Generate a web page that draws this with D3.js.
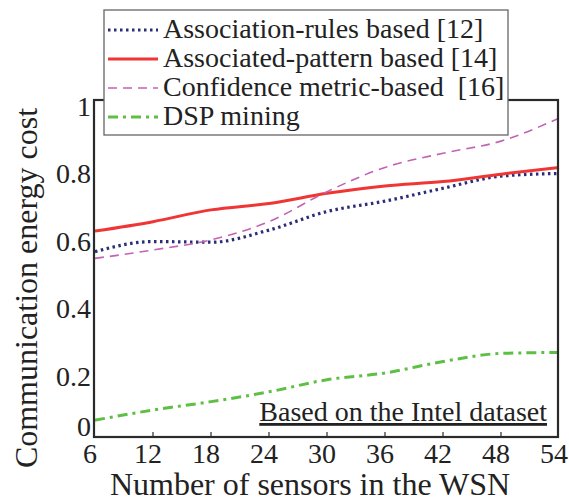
<!DOCTYPE html>
<html>
<head>
<meta charset="utf-8">
<script src="https://cdn.jsdelivr.net/npm/d3@7"></script>
<style>
body { margin: 0; background: #fff; }
text { font-family: "Liberation Serif", "Times New Roman", serif; fill: #222; }
</style>
</head>
<body>
<div id="chart"></div>
<script>
// number of sensors
var sensors = [6, 12, 18, 24, 30, 36, 42, 48, 54];

var assoc_rules   = [0.55, 0.58, 0.578, 0.614, 0.669, 0.70, 0.738, 0.774, 0.782];
var assoc_pattern = [0.611, 0.639, 0.674, 0.693, 0.723, 0.745, 0.758, 0.780, 0.80];
var confidence    = [0.53, 0.555, 0.585, 0.639, 0.728, 0.80, 0.842, 0.878, 0.946];
var dsp_mining    = [0.05, 0.08, 0.105, 0.134, 0.17, 0.19, 0.224, 0.248, 0.251];

var series_names = ['Association-rules based [12]', 'Associated-pattern based [14]',
		    'Confidence metric-based  [16]', 'DSP mining'];
var x_ticks = [6, 12, 18, 24, 30, 36, 42, 48, 54];
var y_ticks = [0, 0.2, 0.4, 0.6, 0.8, 1];

var width = 569, height = 502;
var m = {left: 94, right: 558, top: 100, bottom: 437};

var series = [
    {name: series_names[0], values: assoc_rules, color: '#2a2d78', width: 3.2, dash: '2.5,3.5'},
    {name: series_names[1], values: assoc_pattern, color: '#f03535', width: 3, dash: null},
    {name: series_names[2], values: confidence, color: '#c462b4', width: 1.6, dash: '9,6'},
    {name: series_names[3], values: dsp_mining, color: '#5fbf45', width: 3, dash: '10,5,3,5'}
];

var x = d3.scaleLinear().domain([6, 54]).range([m.left + 1, m.right + 1]);
var y = d3.scaleLinear().domain([0, 1]).range([m.bottom, m.top]);

var svg = d3.select('#chart').append('svg')
    .attr('width', width)
    .attr('height', height);

var line = d3.line()
    .x(function(d, i) { return x(sensors[i]); })
    .y(function(d) { return y(d); })
    .curve(d3.curveMonotoneX);

// plot lines
svg.selectAll('path.series')
    .data(series)
    .enter()
    .append('path')
    .attr('class', 'series')
    .attr('fill', 'none')
    .attr('stroke', function(d) { return d.color; })
    .attr('stroke-width', function(d) { return d.width; })
    .attr('stroke-dasharray', function(d) { return d.dash; })
    .attr('d', function(d) { return line(d.values); });

// frame
svg.append('rect')
    .attr('x', m.left)
    .attr('y', m.top)
    .attr('width', m.right - m.left)
    .attr('height', m.bottom - m.top)
    .attr('fill', 'none')
    .attr('stroke', '#2a2a2a')
    .attr('stroke-width', 2.2);

// x ticks (inward)
svg.selectAll('line.xtick')
    .data(x_ticks.slice(1, -1))
    .enter()
    .append('line')
    .attr('stroke', '#2a2a2a')
    .attr('stroke-width', 1.2)
    .attr('x1', function(d) { return x(d); })
    .attr('x2', function(d) { return x(d); })
    .attr('y1', m.bottom)
    .attr('y2', m.bottom - 5);

// labels sit a few pixels left of their ticks in the reference
svg.selectAll('text.xtick')
    .data(x_ticks)
    .enter()
    .append('text')
    .attr('text-anchor', 'middle')
    .attr('font-size', 28)
    .attr('x', function(d) { return x(d) - 5; })
    .attr('y', m.bottom + 26)
    .text(function(d) { return d; });

// y tick labels; the reference sits them a bit below the grid values
svg.selectAll('text.ytick')
    .data(y_ticks)
    .enter()
    .append('text')
    .attr('text-anchor', 'end')
    .attr('font-size', 28)
    .attr('x', m.left - 3)
    .attr('y', function(d) { return y(d) + (d === 0 ? -1 : 16); })
    .text(function(d) { return d; });

// axis titles
svg.append('text')
    .attr('text-anchor', 'middle')
    .attr('font-size', 32)
    .attr('x', 310)
    .attr('y', 495)
    .text('Number of sensors in the WSN');

svg.append('text')
    .attr('text-anchor', 'middle')
    .attr('font-size', 32)
    .attr('transform', 'translate(37,288) rotate(-90)')
    .text('Communication energy cost');

// dataset note
svg.append('text')
    .attr('text-anchor', 'end')
    .attr('font-size', 28)
    .attr('text-decoration', 'underline')
    .attr('x', 547)
    .attr('y', 421)
    .text('Based on the Intel dataset');

// legend
var legend = svg.append('g');
legend.append('rect')
    .attr('x', 104)
    .attr('y', 10)
    .attr('width', 404)
    .attr('height', 125)
    .attr('fill', '#fff')
    .attr('stroke', '#666')
    .attr('stroke-width', 1.3);

var entry = legend.selectAll('g.entry')
    .data(series)
    .enter()
    .append('g')
    .attr('transform', function(d, i) { return 'translate(0,' + (30 + i * 29) + ')'; });

entry.append('line')
    .attr('x1', 108)
    .attr('x2', 158)
    .attr('y1', 0)
    .attr('y2', 0)
    .attr('stroke', function(d) { return d.color; })
    .attr('stroke-width', function(d) { return d.width; })
    .attr('stroke-dasharray', function(d) { return d.dash; });

// keep the double space before [16]
entry.append('text')
    .attr('x', 163)
    .attr('y', 8)
    .attr('font-size', 28)
    .style('white-space', 'pre')
    .text(function(d) { return d.name; });
</script>
</body>
</html>
